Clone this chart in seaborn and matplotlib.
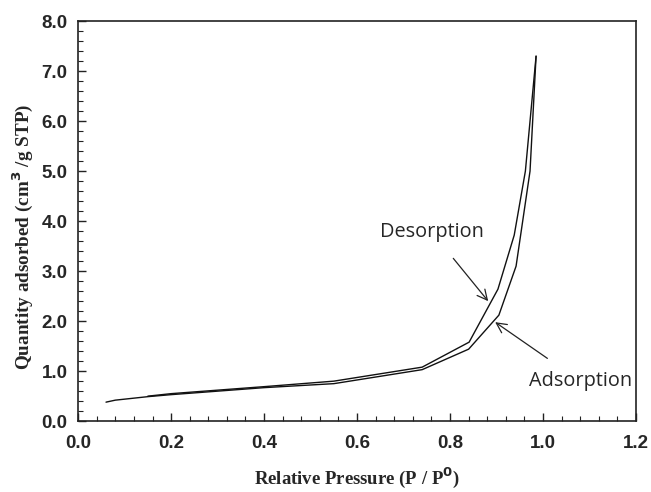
import matplotlib
matplotlib.use("Agg")
import matplotlib.pyplot as plt
import seaborn as sns
import pandas as pd
from matplotlib.ticker import MultipleLocator

# Nitrogen isotherm branches
ads_p = [0.06, 0.08, 0.15, 0.20, 0.30, 0.40, 0.55, 0.74, 0.84, 0.905, 0.942, 0.972, 0.985]
ads_q = [0.38, 0.42, 0.49, 0.53, 0.60, 0.67, 0.75, 1.03, 1.44, 2.12, 3.10, 5.00, 7.30]
des_p = [0.985, 0.962, 0.938, 0.903, 0.841, 0.74, 0.55, 0.40, 0.30, 0.20, 0.15]
des_q = [7.30, 5.00, 3.72, 2.64, 1.58, 1.08, 0.80, 0.69, 0.62, 0.55, 0.50]

x_ticks = [0.0, 0.2, 0.4, 0.6, 0.8, 1.0, 1.2]
y_ticks = [0.0, 1.0, 2.0, 3.0, 4.0, 5.0, 6.0, 7.0, 8.0]

sns.set_style("ticks")
plt.rcParams["font.family"] = ["Liberation Sans", "DejaVu Sans"]

df = pd.concat([
    pd.DataFrame({"p": ads_p, "q": ads_q, "branch": "Adsorption", "order": range(len(ads_p))}),
    pd.DataFrame({"p": des_p, "q": des_q, "branch": "Desorption", "order": range(len(des_p))}),
])

fig = plt.figure(figsize=(6.51, 4.92), dpi=100)
ax = fig.add_axes([0.12, 0.144, 0.857, 0.813])

for name, sub in df.groupby("branch"):
    sns.lineplot(data=sub, x="p", y="q", sort=False, estimator=None,
                 color="#111111", linewidth=1.0, ax=ax, legend=False)

ax.set_xlim(0, 1.2)
ax.set_ylim(0, 8)
ax.set_xticks(x_ticks)
ax.set_yticks(y_ticks)
ax.set_xticklabels([f"{v:.1f}" for v in x_ticks], fontweight="bold", fontsize=13.5)
ax.set_yticklabels([f"{v:.1f}" for v in y_ticks], fontweight="bold", fontsize=13.5)
ax.xaxis.set_minor_locator(MultipleLocator(0.04))
ax.yaxis.set_minor_locator(MultipleLocator(0.2))
ax.tick_params(which="both", direction="in", top=False, right=False, color="#222222")
ax.tick_params(which="major", length=6, width=1.0)
ax.tick_params(axis="x", which="major", pad=10)
ax.tick_params(axis="y", which="major", pad=7.5)
ax.tick_params(which="minor", length=3.5, width=0.8)
for s in ax.spines.values():
    s.set_linewidth(1.2)
    s.set_color("#222222")

ax.set_xlabel("Relative Pressure (P / P$^{\\mathbf{0}}$)", fontfamily="Liberation Serif",
              fontweight="bold", fontsize=13.5)
ax.set_ylabel("Quantity adsorbed (cm$^{\\mathbf{3}}$ /g STP)", fontfamily="Liberation Serif",
              fontweight="bold", fontsize=13.8)
ax.xaxis.set_label_coords(0.5, -0.11)
ax.yaxis.set_label_coords(-0.078, 0.46)

ax.annotate("Desorption", xy=(0.882, 2.40), xytext=(0.761, 3.78),
            ha="center", va="center", fontsize=14.3, fontfamily="Open Sans",
            arrowprops=dict(arrowstyle="->", color="#222222", lw=0.9,
                            shrinkA=12, shrinkB=0, mutation_scale=18))
ax.annotate("Adsorption", xy=(0.897, 1.98), xytext=(1.08, 0.80),
            ha="center", va="center", fontsize=14.3, fontfamily="Open Sans",
            arrowprops=dict(arrowstyle="->", color="#222222", lw=0.9,
                            shrinkA=12, shrinkB=0, mutation_scale=18))

fig.savefig("out.png", dpi=100)
